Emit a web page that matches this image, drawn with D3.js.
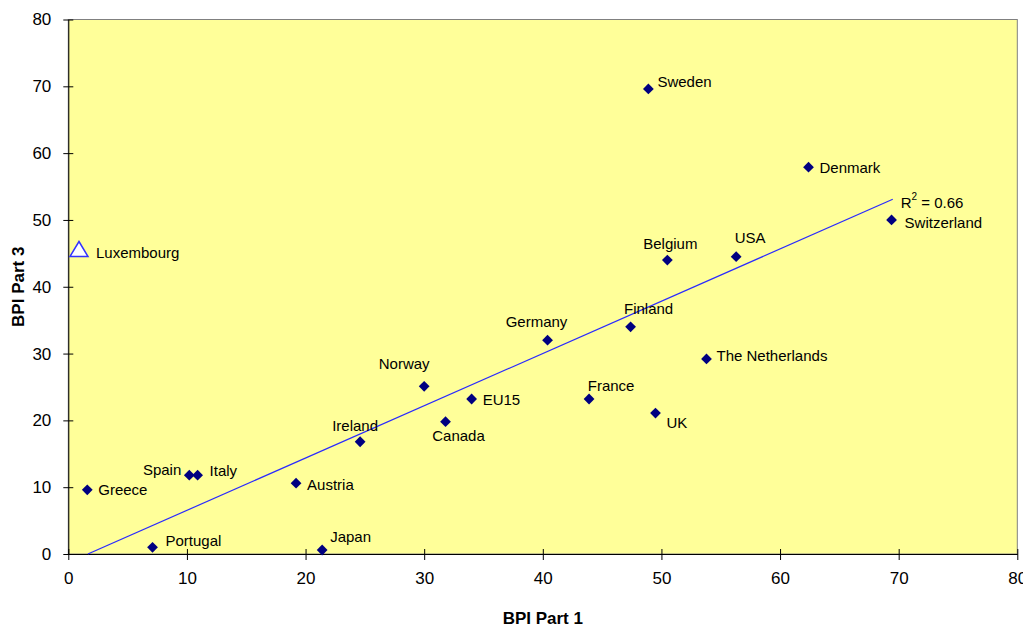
<!DOCTYPE html>
<html><head><meta charset="utf-8">
<script src="https://cdn.jsdelivr.net/npm/d3@7"></script>
<style>body{margin:0;background:#fff;} svg{display:block;} text{font-family:"Liberation Sans",Arial,sans-serif;}</style>
</head><body>
<svg id="c" width="1023" height="627"></svg>
<script>
// Data
const countries = ["Sweden","Denmark","Switzerland","USA","Belgium","Finland","Germany","The Netherlands","Norway","EU15","France","UK","Canada","Ireland","Spain","Italy","Greece","Austria","Portugal","Japan"];
const part1 = [48.9,62.4,69.4,56.3,50.5,47.4,40.4,53.8,30.0,34.0,43.9,49.5,31.8,24.6,10.2,10.9,1.6,19.2,7.1,21.4];
const part3 = [69.6,57.9,50.0,44.5,44.0,34.0,32.0,29.2,25.1,23.2,23.2,21.1,19.8,16.8,11.8,11.8,9.6,10.6,1.0,0.6];
const outlierName = ["Luxembourg"];
const outlierX = [0.9];
const outlierY = [45.5];
const trendX = [1.65, 69.5];
const trendY = [0, 53.1];
const rSquared = "0.66";
const xTicks = [0,10,20,30,40,50,60,70,80];
const yTicks = [0,10,20,30,40,50,60,70,80];

// Layout (label offsets in px relative to marker)
const labelPos = {
  "Sweden":[9,-7,"start"],"Denmark":[11,0,"start"],"Switzerland":[13,3,"start"],
  "USA":[14,-19,"middle"],"Belgium":[3,-17,"middle"],"Finland":[18,-18,"middle"],
  "Germany":[-11,-19,"middle"],"The Netherlands":[10,-3,"start"],"Norway":[-20,-23,"middle"],
  "EU15":[11,1,"start"],"France":[22,-13,"middle"],"UK":[11,9,"start"],
  "Canada":[13,14,"middle"],"Ireland":[-5,-16,"middle"],"Spain":[-8,-6,"end"],
  "Italy":[12,-5,"start"],"Greece":[11,0,"start"],"Austria":[11,1,"start"],
  "Portugal":[13,-7,"start"],"Japan":[8,-13,"start"],"Luxembourg":[17,2,"start"]
};

const svg = d3.select("#c");
const L=68.3, R=1017.3, T=19.5, B=554;
const x = d3.scaleLinear().domain([0,80]).range([L,R]);
const y = d3.scaleLinear().domain([0,80]).range([B,T]);

svg.append("rect").attr("x",L).attr("y",T).attr("width",R-L).attr("height",B-T)
  .attr("fill","#FFFF99").attr("stroke","#808080").attr("stroke-width",1);

// axes
const xAxis = d3.axisBottom(x).tickValues(xTicks).tickSizeInner(6).tickSizeOuter(0).tickPadding(12);
const gx = svg.append("g").attr("transform",`translate(0,${B})`).call(xAxis);
gx.selectAll(".tick line").attr("y1",-5).attr("y2",6).attr("stroke","#000");
gx.select(".domain").attr("stroke","#000");
gx.selectAll("text").attr("font-size",17).attr("fill","#000").attr("font-family","Liberation Sans, Arial, sans-serif");

const yAxis = d3.axisLeft(y).tickValues(yTicks).tickSizeInner(5).tickSizeOuter(0).tickPadding(12);
const gy = svg.append("g").attr("transform",`translate(${L},0)`).call(yAxis);
gy.selectAll(".tick line").attr("x1",-5).attr("x2",5).attr("stroke","#000");
gy.select(".domain").attr("stroke","#000");
gy.selectAll("text").attr("font-size",17).attr("fill","#000").attr("font-family","Liberation Sans, Arial, sans-serif");

// trend line
svg.append("line").attr("x1",x(trendX[0])).attr("y1",y(trendY[0]))
  .attr("x2",x(trendX[1])).attr("y2",y(trendY[1]))
  .attr("stroke","#2a2aff").attr("stroke-width",1.2);
svg.append("text").attr("x",x(trendX[1])+8).attr("y",y(trendY[1])+3)
  .attr("font-size",15).attr("dominant-baseline","central")
  .html(`R<tspan dy="-6" font-size="10">2</tspan><tspan dy="6"> = ${rSquared}</tspan>`);

// points
const pts = countries.map((c,i)=>({name:c,x:part1[i],y:part3[i]}));
svg.selectAll(".pt").data(pts).enter().append("path")
  .attr("d",d3.symbol().type(d3.symbolSquare).size(58)())
  .attr("transform",d=>`translate(${x(d.x)},${y(d.y)}) rotate(45)`)
  .attr("fill","#000080");
svg.selectAll(".lbl").data(pts).enter().append("text")
  .attr("x",d=>x(d.x)+labelPos[d.name][0]).attr("y",d=>y(d.y)+labelPos[d.name][1])
  .attr("text-anchor",d=>labelPos[d.name][2]).attr("dominant-baseline","central")
  .attr("font-size",15).attr("fill","#000").text(d=>d.name);

// outlier
const outs = outlierName.map((n,i)=>({name:n,x:outlierX[i],y:outlierY[i]}));
svg.selectAll(".out").data(outs).enter().append("path")
  .attr("transform",d=>`translate(${x(d.x)},${y(d.y)})`)
  .attr("d","M0,-8.5 L9,6.5 L-9,6.5 Z").attr("fill","#fff").attr("stroke","#3333ff").attr("stroke-width",1.5);
svg.selectAll(".outl").data(outs).enter().append("text")
  .attr("x",d=>x(d.x)+labelPos[d.name][0]).attr("y",d=>y(d.y)+labelPos[d.name][1])
  .attr("dominant-baseline","central").attr("font-size",15).text(d=>d.name);

// axis titles
svg.append("text").attr("x",(L+R)/2).attr("y",618).attr("text-anchor","middle").attr("dominant-baseline","central")
  .attr("font-size",17).attr("font-weight","bold").text("BPI Part 1");
svg.append("text").attr("transform",`translate(18,${(T+B)/2}) rotate(-90)`).attr("text-anchor","middle").attr("dominant-baseline","central")
  .attr("font-size",17).attr("font-weight","bold").text("BPI Part 3");
</script>
</body></html>
